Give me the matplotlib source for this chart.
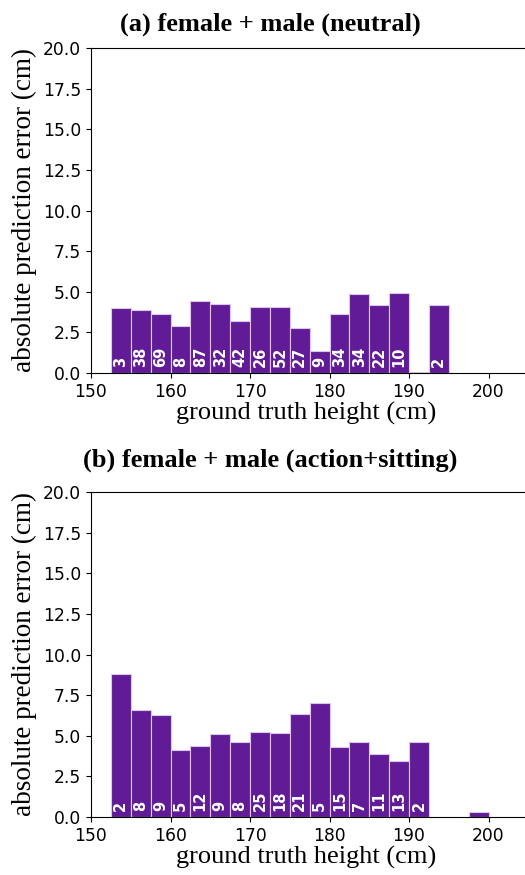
import matplotlib
matplotlib.use("Agg")
import matplotlib.pyplot as plt

# bin left edges (cm), bin width 2.5
edges_a = [152.5, 155, 157.5, 160, 162.5, 165, 167.5, 170, 172.5, 175,
           177.5, 180, 182.5, 185, 187.5, 190, 192.5]
err_a = [4.0, 3.9, 3.65, 2.92, 4.45, 4.25, 3.18, 4.05, 4.05, 2.75,
         1.35, 3.65, 4.88, 4.16, 4.93, 0.08, 4.2]
count_a = ["3", "38", "69", "8", "87", "32", "42", "26", "52", "27",
           "9", "34", "34", "22", "10", "", "2"]

edges_b = [152.5, 155, 157.5, 160, 162.5, 165, 167.5, 170, 172.5, 175,
           177.5, 180, 182.5, 185, 187.5, 190, 197.5]
err_b = [8.78, 6.57, 6.3, 4.12, 4.39, 5.09, 4.6, 5.21, 5.15, 6.36,
         7.04, 4.29, 4.6, 3.9, 3.43, 4.6, 0.29]
count_b = ["2", "8", "9", "5", "12", "9", "8", "25", "18", "21",
           "5", "15", "7", "11", "13", "2", ""]

titles = ["(a) female + male (neutral)", "(b) female + male (action+sitting)"]
bin_w = 2.5
bar_color = "#611b97"
serif = "Liberation Serif"

W, H = 525, 875
fig = plt.figure(figsize=(W / 100, H / 100), dpi=100)

px_per_cm = 7.95
ax_w = 60 * px_per_cm / W
# (edges, errors, counts, axes top px, title centre px)
panels = [(edges_a, err_a, count_a, 48, 24), (edges_b, err_b, count_b, 492, 460)]

for i, (edges, err, counts, top_px, title_px) in enumerate(panels):
    ax = fig.add_axes([91 / W, 1 - (top_px + 325) / H, ax_w, 325 / H])
    bars = ax.bar(edges, err, width=bin_w, align="edge", color=bar_color,
                  edgecolor="#d9c8e8", linewidth=0.8)
    for b, c in zip(bars, counts):
        if c:
            ax.annotate(c, (b.get_x() + b.get_width() / 2, 0),
                        xytext=(0, 4), textcoords="offset points",
                        rotation=90, ha="center", va="bottom",
                        color="white", fontweight="bold", fontsize=10.5)
    ax.set_xlim(150, 210)
    ax.set_ylim(0, 20)
    ax.set_xticks([150, 160, 170, 180, 190, 200])
    ax.set_yticks([0, 2.5, 5, 7.5, 10, 12.5, 15, 17.5, 20])
    ax.tick_params(labelsize=12.3)
    ax.set_xlabel("ground truth height (cm)", fontsize=19, family=serif)
    ax.xaxis.set_label_coords((306 - 91) / (60 * px_per_cm), -0.09)
    ax.set_ylabel("absolute prediction error (cm)", fontsize=19.5, family=serif)
    ax.yaxis.set_label_coords(-0.113, 0.5)
    fig.text(270 / W, 1 - title_px / H, titles[i], ha="center",
             va="center", fontsize=19, fontweight="bold", family=serif)

fig.savefig("out.png", dpi=100)
